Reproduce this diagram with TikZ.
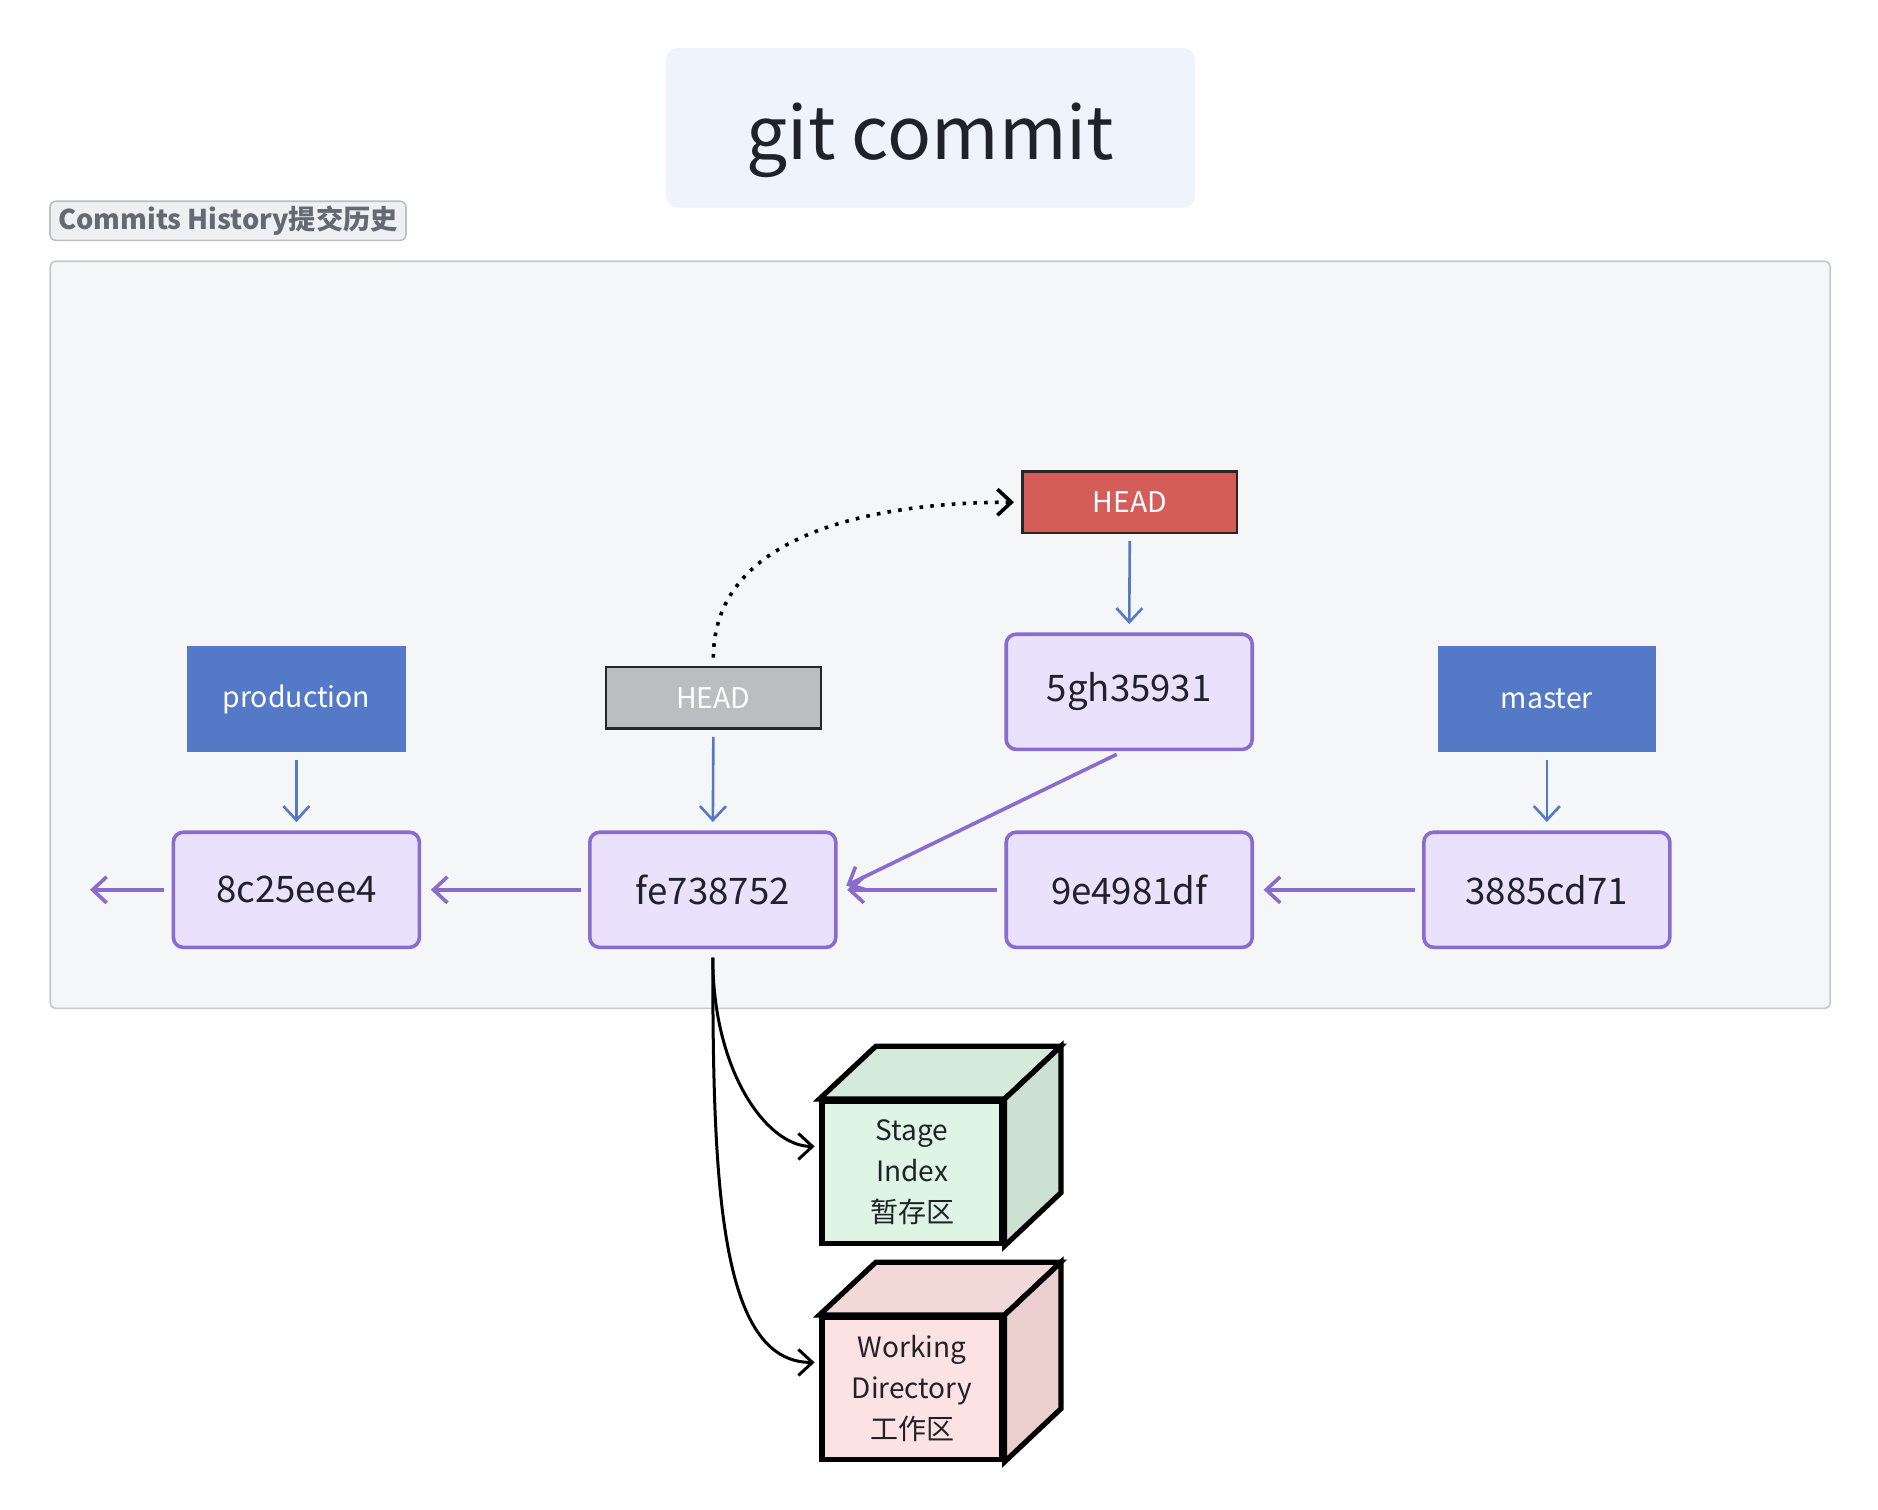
\documentclass[tikz,border=0pt]{standalone}
\usepackage{fontspec}
\setmainfont{Noto Sans CJK SC}
\usepackage{tikz}
\usetikzlibrary{positioning,arrows.meta}
\usepackage{xcolor}

\definecolor{textdark}{HTML}{1F2329}
\definecolor{titlebg}{HTML}{EEF3FC}
\definecolor{labelbg}{HTML}{EFF0F1}
\definecolor{labeldraw}{HTML}{BBBFC4}
\definecolor{labeltext}{HTML}{646A73}
\definecolor{panelbg}{HTML}{F5F6F7}
\definecolor{paneldraw}{HTML}{C4C7CC}
\definecolor{commitfill}{HTML}{EAE2FC}
\definecolor{commitdraw}{HTML}{8A6BCF}
\definecolor{branchblue}{HTML}{5379C7}
\definecolor{headgray}{HTML}{BBBDC0}
\definecolor{headred}{HTML}{D45D5A}
\definecolor{stagefront}{HTML}{DEF5E6}
\definecolor{stagetop}{HTML}{D4EBDB}
\definecolor{stageside}{HTML}{CCE1D2}
\definecolor{workfront}{HTML}{FDE2E3}
\definecolor{worktop}{HTML}{F3D8D8}
\definecolor{workside}{HTML}{EBCFCF}

\begin{document}
\begin{tikzpicture}[x=0.6pt, y=0.6pt, >={Straight Barb[length=7pt,width=13pt]},
	every node/.style={text=textdark},
	title/.style={fill=titlebg, rounded corners=6pt, minimum width=264.6pt, minimum height=79.8pt, text height=36pt, text depth=4pt, font=\fontsize{36.5}{44}\selectfont},
	history label/.style={fill=labelbg, draw=labeldraw, line width=0.8pt, rounded corners=3pt, minimum width=178pt, minimum height=19.6pt, inner sep=0pt, text=labeltext, font=\bfseries\fontsize{13.6}{16}\selectfont},
	panel/.style={fill=panelbg, draw=paneldraw, line width=0.8pt, rounded corners=3pt, minimum width=890pt, minimum height=373.6pt},
	commit/.style={draw=commitdraw, fill=commitfill, line width=1.8pt, rounded corners=5pt, minimum width=123pt, minimum height=57.6pt, font=\fontsize{18.3}{22}\selectfont},
	branch/.style={fill=branchblue, text=white, minimum width=109.2pt, minimum height=53.4pt, font=\fontsize{14.2}{17}\selectfont},
	head/.style={draw=black!85, line width=1.2pt, text=white, minimum width=107.4pt, minimum height=30.6pt, font=\fontsize{14.2}{17}\selectfont},
	cube front/.style={draw=black, line width=2.6pt, minimum width=90pt, minimum height=70.8pt, inner sep=0pt, align=center, font=\fontsize{14}{20.4}\selectfont},
	cube face/.style={draw=black, line width=2.6pt},
	pointer/.style={draw=branchblue, line width=1.3pt, shorten <=3.6pt, shorten >=4.2pt},
	parent/.style={draw=commitdraw, line width=1.8pt, shorten <=3.6pt, shorten >=4.8pt},
	move/.style={draw=black, line width=1.8pt, dash pattern=on 1.8pt off 3.6pt, shorten <=4.2pt, shorten >=3.6pt},
	update/.style={draw=black, line width=1.5pt, shorten <=4.2pt, shorten >=2.4pt}]
	
	\useasboundingbox (0,0) rectangle (1565,-1258.3);
	
	\node [title] (title) at (775.5,-106.5) {git commit};
	\node [history label] (history-label) at (190,-184) {Commits History提交历史};
	\node [panel] (history) at (783.5,-529) {};
	
	\foreach \m/\x in {8c25eee4/247, fe738752/594, 9e4981df/941, 3885cd71/1289}
	  \node [commit] (commit-\m) at (\x,-741.5) {\m};
	\node [commit] (commit-5gh35931) at (941,-576.5) {5gh35931};
	
	\foreach \b/\x in {production/247, master/1289}
	  \node [branch] (\b) at (\x,-582.5) {\b};
	
	\node [head, fill=headgray] (head-old) at (594.5,-581.5) {HEAD};
	\node [head, fill=headred] (head-new) at (941.5,-418.5) {HEAD};
	
	\coordinate (older) at (67,-741.5);
	
	% parents
	\foreach \a/\b in {3885cd71/9e4981df, 9e4981df/fe738752, fe738752/8c25eee4}
	  \draw [->, parent] (commit-\a.west) -- (commit-\b.east);
	\draw [->, parent] (commit-8c25eee4.west) -- (older);
	\draw [->, parent] ([xshift=-3pt]commit-5gh35931.south) -- (commit-fe738752.east);
	
	% refs
	\draw [->, pointer] (production.south) -- (commit-8c25eee4.north);
	\draw [->, pointer] (master.south) -- (commit-3885cd71.north);
	\draw [->, pointer] (head-old.south) -- (commit-fe738752.north);
	\draw [->, pointer] (head-new.south) -- (commit-5gh35931.north);
	\draw [->, move] (head-old.north) to [out=90, in=180] (head-new.west);
	
	% stage and working tree
	\foreach \m/\y/\l in {stage/977/{Stage\\Index\\暂存区}, work/1157/{Working\\Directory\\工作区}} {
	  \node [cube front, fill=\m front] (\m) at (760,-\y) {\l};
	  \filldraw [cube face, fill=\m top] (\m.north west) -- ++(47,44) -- ++(154,0) -- (\m.north east) -- cycle;
	  \filldraw [cube face, fill=\m side] (\m.north east) -- ++(47,44) -- ++(0,-122) -- (\m.south east) -- cycle;
	}
	
	\foreach \m in {stage, work}
	  \draw [->, update] (commit-fe738752.south) to [out=-90, in=180, out looseness=1.4, in looseness=0.6] ([yshift=13pt]\m.west);
	
	\end{tikzpicture}
\end{document}
